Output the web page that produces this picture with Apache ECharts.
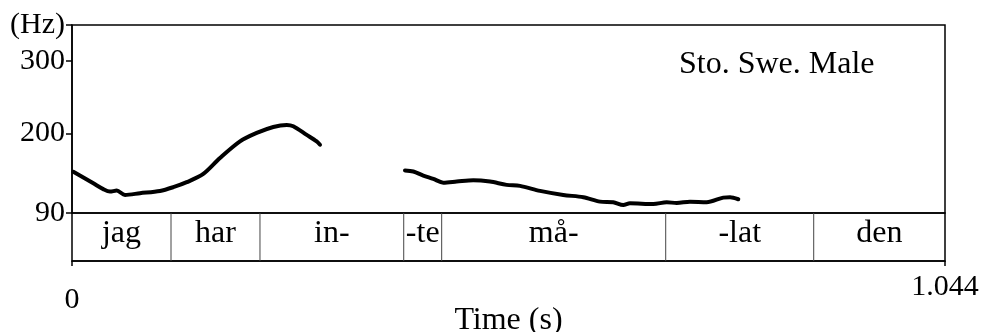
<!DOCTYPE html>
<html>
<head>
<meta charset="utf-8">
<script src="https://cdn.jsdelivr.net/npm/echarts@6/dist/echarts.min.js"></script>
<style>
html,body{margin:0;padding:0;background:#fff;}
#chart{width:983px;height:332px;}
</style>
</head>
<body>
<div id="chart"></div>
<script>
// ---- data ----
var timeMin = 0;
var timeMax = 1.044;
var hzMin = 90;
var hzMax = 350;
var yTickValues = [90, 200, 300, 350];
var yTickLabels = ['90', '200', '300', '(Hz)'];
var xTickValues = [0, 1.044];
var xTickLabels = ['0', '1.044'];

var contour1Time = [0.0016, 0.0255, 0.0374, 0.0454, 0.0535, 0.0634, 0.0813, 0.1052, 0.1211, 0.1372, 0.1570, 0.1770, 0.2009, 0.2209, 0.2407, 0.2568, 0.2646, 0.2807, 0.2926, 0.2966];
var contour1Hz   = [147, 131, 123, 119.6, 121, 115, 117.4, 120.5, 125.7, 132.6, 144, 166, 189, 200.7, 209, 211.8, 210, 198, 189, 184.4];

var contour2Time = [0.3982, 0.4082, 0.4201, 0.4321, 0.4440, 0.4601, 0.4799, 0.4999, 0.5198, 0.5358, 0.5597, 0.5875, 0.6115, 0.6314, 0.6473, 0.6593, 0.6673, 0.6952, 0.7112, 0.7232, 0.7390, 0.7590, 0.7789, 0.7869, 0.7968];
var contour2Hz   = [148.8, 147.4, 141.8, 137.2, 132, 133.5, 135.4, 133.5, 128.9, 127.5, 120.6, 115, 111.8, 105.7, 104.8, 101, 103.4, 102.5, 104.8, 103.9, 105.7, 104.8, 111.3, 111.8, 109];

var segmentStarts = [0, 0.1184, 0.2248, 0.3967, 0.4421, 0.710, 0.887];
var segmentEnds   = [0.1184, 0.2248, 0.3967, 0.4421, 0.710, 0.887, 1.044];
var segmentLabels = ['jag', 'har', 'in-', '-te', 'må-', '-lat', 'den'];

var speakerLabel = 'Sto. Swe. Male';
var xAxisTitle = 'Time (s)';

// ---- build ----
function pairs(xs, ys) { return xs.map(function (x, i) { return [x, ys[i]]; }); }
var FONT = 'Liberation Serif';
var WORD_SIZE = 32;
var NUM_SIZE = 30;

var chart = echarts.init(document.getElementById('chart'), null, {renderer: 'canvas'});
var option = {
  animation: false,
  backgroundColor: '#fff',
  textStyle: {fontFamily: FONT},
  grid: [
    {left: 72, right: 38, top: 25, height: 188, show: true, borderColor: '#000', borderWidth: 1.5, backgroundColor: 'transparent', containLabel: false, outerBoundsMode: 'none'},
    {left: 72, right: 38, top: 213, height: 48, show: true, borderColor: '#000', borderWidth: 1.5, backgroundColor: 'transparent', containLabel: false, outerBoundsMode: 'none'}
  ],
  xAxis: [
    {gridIndex: 0, type: 'value', min: timeMin, max: timeMax, show: false},
    {gridIndex: 1, type: 'value', min: timeMin, max: timeMax, position: 'bottom',
     axisLine: {show: true, lineStyle: {color: '#000', width: 1.5}},
     axisTick: {show: true, length: 5, inside: false, customValues: xTickValues, lineStyle: {color: '#000', width: 1.5}},
     axisLabel: {show: true, customValues: xTickValues, margin: 11, color: '#000', fontFamily: FONT, fontSize: NUM_SIZE,
       formatter: function (v) {
         var i = xTickValues.indexOf(v);
         var t = i >= 0 ? xTickLabels[i] : '';
         return i === 0 ? '{z|' + t + '}' : '{n|' + t + '}';
       },
       rich: {
         z: {fontFamily: FONT, fontSize: NUM_SIZE, color: '#000', padding: [13, 0, 0, 0]},
         n: {fontFamily: FONT, fontSize: NUM_SIZE, color: '#000'}
       }
     },
     splitLine: {show: false},
     name: xAxisTitle, nameLocation: 'middle', nameGap: 44, nameMoveOverlap: false,
     nameTextStyle: {fontFamily: FONT, fontSize: WORD_SIZE, color: '#000'}
    }
  ],
  yAxis: [
    {gridIndex: 0, type: 'value', min: hzMin, max: hzMax,
     axisLine: {show: true, lineStyle: {color: '#000', width: 1.5}},
     axisTick: {show: true, length: 6, customValues: yTickValues, lineStyle: {color: '#000', width: 1.5}},
     axisLabel: {show: true, customValues: yTickValues, margin: 7, color: '#000', fontFamily: FONT, fontSize: NUM_SIZE,
       formatter: function (v) {
         var i = yTickValues.indexOf(v);
         return i >= 0 ? yTickLabels[i] : '';
       }
     },
     splitLine: {show: false}
    },
    {gridIndex: 1, type: 'value', min: 0, max: 1, show: false}
  ],
  graphic: [
    {type: 'text', left: 679, top: 49, style: {text: speakerLabel, font: WORD_SIZE + 'px "' + FONT + '"', fill: '#000'}}
  ],
  series: [
    {type: 'line', xAxisIndex: 0, yAxisIndex: 0, data: pairs(contour1Time, contour1Hz), showSymbol: false, symbol: 'none', smooth: 0.3,
     lineStyle: {color: '#000', width: 4, cap: 'round', join: 'round'}},
    {type: 'line', xAxisIndex: 0, yAxisIndex: 0, data: pairs(contour2Time, contour2Hz), showSymbol: false, symbol: 'none', smooth: 0.3,
     lineStyle: {color: '#000', width: 4, cap: 'round', join: 'round'}},
    {type: 'custom', xAxisIndex: 1, yAxisIndex: 1,
     data: segmentLabels.map(function (l, i) { return [segmentStarts[i], segmentEnds[i], i]; }),
     renderItem: function (params, api) {
       var i = api.value(2);
       var p0 = api.coord([api.value(0), 0]);
       var p1 = api.coord([api.value(1), 1]);
       var children = [];
       if (api.value(0) > timeMin) {
         children.push({type: 'line', shape: {x1: p0[0], y1: p0[1], x2: p0[0], y2: p1[1]}, style: {stroke: '#444', lineWidth: 1}});
       }
       children.push({type: 'text', x: (p0[0] + p1[0]) / 2, y: (p0[1] + p1[1]) / 2 - 3,
         style: {text: segmentLabels[i], font: WORD_SIZE + 'px "' + FONT + '"', fill: '#000', align: 'center', verticalAlign: 'middle'}});
       return {type: 'group', children: children};
     }
    }
  ]
};
chart.setOption(option);
</script>
</body>
</html>
